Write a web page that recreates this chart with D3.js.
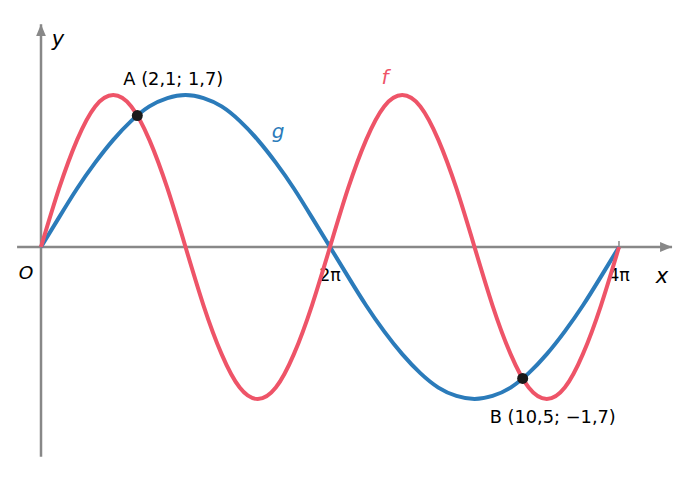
<!DOCTYPE html>
<html>
<head>
<meta charset="utf-8">
<script src="https://cdn.jsdelivr.net/npm/d3@7"></script>
<style>
  body { margin: 0; background: #fff; }
  text { font-family: "DejaVu Sans", sans-serif; }
</style>
</head>
<body>
<div id="chart"></div>
<script>
// sample points along x (steps of pi/8 from 0 to 4pi)
const xValues = [0, 0.393, 0.785, 1.178, 1.571, 1.963, 2.356, 2.749, 3.142, 3.534, 3.927, 4.320,
  4.712, 5.105, 5.498, 5.890, 6.283, 6.676, 7.069, 7.461, 7.854, 8.247, 8.639, 9.032,
  9.425, 9.817, 10.210, 10.603, 10.996, 11.388, 11.781, 12.174, 12.566];
const fValues = [0, 0.77, 1.41, 1.85, 2, 1.85, 1.41, 0.77, 0, -0.77, -1.41, -1.85,
  -2, -1.85, -1.41, -0.77, 0, 0.77, 1.41, 1.85, 2, 1.85, 1.41, 0.77,
  0, -0.77, -1.41, -1.85, -2, -1.85, -1.41, -0.77, 0];
const gValues = [0, 0.39, 0.77, 1.11, 1.41, 1.66, 1.85, 1.96, 2, 1.96, 1.85, 1.66,
  1.41, 1.11, 0.77, 0.39, 0, -0.39, -0.77, -1.11, -1.41, -1.66, -1.85, -1.96,
  -2, -1.96, -1.85, -1.66, -1.41, -1.11, -0.77, -0.39, 0];
const tickValues = [6.283, 12.566];
const tickLabels = ["2π", "4π"];
const pointNames = ["A (2,1; 1,7)", "B (10,5; −1,7)"];
const pointX = [2.094, 10.472];
const pointY = [1.73, -1.73];

const width = 690, height = 480;

const x = d3.scaleLinear().domain([0, 4 * Math.PI]).range([41, 619]);
const y = d3.scaleLinear().domain([-2, 2]).range([399, 95]);

const svg = d3.select("#chart").append("svg")
    .attr("width", width)
    .attr("height", height);

const axisColor = "#888888";

// arrow head
svg.append("defs").append("marker")
    .attr("id", "arrow")
    .attr("viewBox", "0 0 12 10")
    .attr("refX", 12).attr("refY", 5)
    .attr("markerWidth", 12).attr("markerHeight", 10)
    .attr("markerUnits", "userSpaceOnUse")
    .attr("orient", "auto")
    .append("path")
    .attr("d", "M0,0L12,5L0,10Z")
    .attr("fill", axisColor);

// x axis
svg.append("line")
    .attr("x1", x(-0.52)).attr("x2", x(13.72))
    .attr("y1", y(0)).attr("y2", y(0))
    .attr("stroke", axisColor).attr("stroke-width", 2.5)
    .attr("marker-end", "url(#arrow)");

// y axis
svg.append("line")
    .attr("x1", x(0)).attr("x2", x(0))
    .attr("y1", y(-2.76)).attr("y2", y(2.93))
    .attr("stroke", axisColor).attr("stroke-width", 2.5)
    .attr("marker-end", "url(#arrow)");

// tick marks
svg.selectAll(".tick").data(tickValues).join("line")
    .attr("x1", d => x(d)).attr("x2", d => x(d))
    .attr("y1", y(0)).attr("y2", y(0) - 6)
    .attr("stroke", axisColor).attr("stroke-width", 1.5);

svg.selectAll(".ticklabel").data(tickLabels).join("text")
    .attr("x", (d, i) => x(tickValues[i]))
    .attr("y", y(0) + 34)
    .attr("text-anchor", "middle")
    .attr("font-size", 17.5)
    .text(d => d);

// axis names
svg.append("text").attr("x", x(0) - 15).attr("y", y(0) + 32)
    .attr("text-anchor", "middle").attr("font-size", 18.5).attr("font-style", "italic").text("O");
svg.append("text").attr("x", 662).attr("y", y(0) + 36)
    .attr("text-anchor", "middle").attr("font-size", 21).attr("font-style", "italic").text("x");
svg.append("text").attr("x", 58).attr("y", 46)
    .attr("text-anchor", "middle").attr("font-size", 21).attr("font-style", "italic").text("y");

// curves
const line = d3.line()
    .x((d, i) => x(xValues[i]))
    .y(d => y(d))
    .curve(d3.curveNatural);

svg.append("path").datum(gValues)
    .attr("d", line)
    .attr("fill", "none").attr("stroke", "#2b7bba").attr("stroke-width", 4);

svg.append("path").datum(fValues)
    .attr("d", line)
    .attr("fill", "none").attr("stroke", "#ee5468").attr("stroke-width", 4);

// curve names
svg.append("text").attr("x", 385).attr("y", 84)
    .attr("text-anchor", "middle").attr("font-size", 20).attr("font-style", "italic")
    .attr("fill", "#ee5468").text("f");
svg.append("text").attr("x", 278).attr("y", 138)
    .attr("text-anchor", "middle").attr("font-size", 20).attr("font-style", "italic")
    .attr("fill", "#2b7bba").text("g");

// intersection points
svg.selectAll(".pt").data(pointX).join("circle")
    .attr("cx", d => x(d))
    .attr("cy", (d, i) => y(pointY[i]))
    .attr("r", 5.5)
    .attr("fill", "#1a1a1a");

svg.selectAll(".ptlabel").data(pointNames).join("text")
    .attr("x", (d, i) => x(pointX[i]) + (i === 0 ? -14 : -33))
    .attr("y", (d, i) => y(pointY[i]) + (i === 0 ? -31 : 45))
    .attr("font-size", 17.8)
    .text(d => d);
</script>
</body>
</html>
